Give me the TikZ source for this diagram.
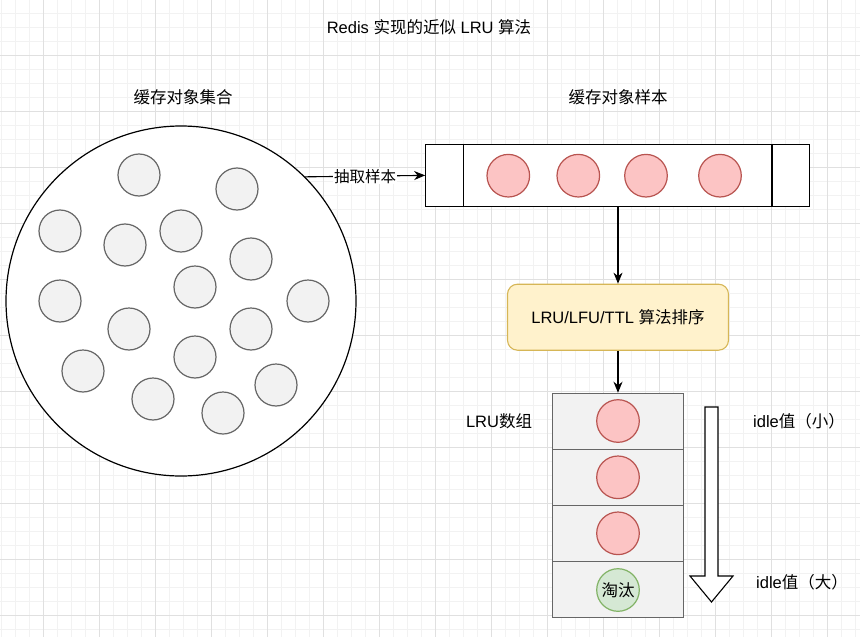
\documentclass[tikz,border=0pt]{standalone}
\usepackage{fontspec}
\setmainfont{Liberation Sans}
\newfontfamily\cjk{Noto Sans CJK SC}
\usetikzlibrary{arrows.meta}
\definecolor{gridminor}{HTML}{F2F2F2}
\definecolor{gridmajor}{HTML}{E0E0E0}
\definecolor{grayfill}{HTML}{F2F2F2}
\definecolor{graydraw}{HTML}{666666}
\definecolor{redfill}{HTML}{FCC4C4}
\definecolor{reddraw}{HTML}{B85450}
\definecolor{greenfill}{HTML}{D5E8D4}
\definecolor{greendraw}{HTML}{82B366}
\definecolor{yelfill}{HTML}{FFF2CC}
\definecolor{yeldraw}{HTML}{D6B656}
\begin{document}
\begin{tikzpicture}[x=1pt,y=-1pt,
  txt/.style={inner sep=0pt, font=\fontsize{16.5}{20}\selectfont},
  lbl/.style={inner sep=1pt, fill=white, font=\fontsize{15.5}{18}\selectfont},
  obj/.style={circle, minimum size=42pt, inner sep=0pt, line width=1.2pt, draw=graydraw, fill=grayfill},
  redobj/.style={circle, minimum size=42.6pt, inner sep=0pt, line width=1.2pt, draw=reddraw, fill=redfill},
  greenobj/.style={circle, minimum size=42.6pt, inner sep=0pt, line width=1.2pt, draw=greendraw, fill=greenfill, font=\fontsize{16.5}{20}\selectfont\cjk},
  cell/.style={rectangle, minimum width=131pt, minimum height=56pt, inner sep=0pt, draw=graydraw, fill=grayfill, line width=1.1pt},
  conn/.style={line width=1.1pt, -{Stealth[length=11pt,width=9pt,inset=3.5pt]}}
]
\useasboundingbox (0,0) rectangle (860,637);
\fill[white] (0,0) rectangle (860,637);
% grid
\foreach \i in {0,...,61} \draw[gridminor, line width=0.9pt] ({1.3+14*\i},0) -- ({1.3+14*\i},637);
\foreach \j in {0,...,45} \draw[gridminor, line width=0.9pt] (0,{13+14*\j}) -- (860,{13+14*\j});
\foreach \i in {0,...,14} \draw[gridmajor, line width=0.9pt] ({43.3+56*\i},0) -- ({43.3+56*\i},637);
\foreach \j in {0,...,10} \draw[gridmajor, line width=0.9pt] (0,{55+56*\j}) -- (860,{55+56*\j});

% title and headings
\node[txt] (title) at (429,27) {Redis {\cjk 实现的近似} LRU {\cjk 算法}};
\node[txt] (h1) at (183,97) {\cjk 缓存对象集合};
\node[txt] (h2) at (618,97) {\cjk 缓存对象样本};

% big circle
\node[circle, draw=black, fill=white, line width=1.2pt, minimum size=350pt, inner sep=0pt] (big) at (181,301) {};
\foreach \n/\x/\y in {o1/139/175, o2/237/189, o3/60/231, o4/125/245, o5/181/231, o6/251/259,
  o7/195/287, o8/60/301, o9/308/301, o10/129/329, o11/251/329, o12/195/357,
  o13/83/371, o14/276/385, o15/153/399, o16/223/413}
  \node[obj] (\n) at (\x,\y) {};

% sample box
\node[rectangle, draw=black, fill=white, line width=1.1pt, minimum width=383.6pt, minimum height=62.7pt, inner sep=0pt] (samp) at (617.5,175.4) {};
\draw[line width=1.1pt] (samp.north -| 463.7,0) -- (samp.south -| 463.7,0);
\draw[line width=1.1pt] (samp.north -| 772,0) -- (samp.south -| 772,0);
\foreach \n/\x in {s1/508.3, s2/578.3, s3/646, s4/720}
  \node[redobj] (\n) at (\x,175.7) {};

% connector big -> sample
\draw[conn] (big.45.8) -- node[lbl] (lab) {\cjk 抽取样本} (samp.west);

% sort box
\node[rectangle, rounded corners=10pt, draw=yeldraw, fill=yelfill, line width=1.1pt, minimum width=221pt, minimum height=66pt, inner sep=0pt, font=\fontsize{16.5}{20}\selectfont] (sort) at (618,317.2) {LRU/LFU/TTL {\cjk 算法排序}};

\draw[conn] (samp.south -| sort.north) -- (sort.north);

% LRU array
\node[cell] (c1) at (618,421.3) {};
\node[cell] (c2) at (618,477.3) {};
\node[cell] (c3) at (618,533.3) {};
\node[cell] (c4) at (618,589.5) {};
\node[redobj] (r1) at (618,421) {};
\node[redobj] (r2) at (618,477.3) {};
\node[redobj] (r3) at (618,533.3) {};
\node[greenobj] (g1) at (618,590) {淘汰};

\draw[conn] (sort.south) -- (c1.north);

\node[txt] (lru) at (499,421.5) {LRU{\cjk 数组}};
\node[txt] (idle1) at (799,421) {idle{\cjk 值（小）}};
\node[txt] (idle2) at (802,582) {idle{\cjk 值（大）}};

% big hollow arrow
\draw[line width=1.1pt, fill=white, line join=miter]
  (705,407) -- (718,407) -- (718,576) -- (733,576) -- (711.5,602) -- (690,576) -- (705,576) -- cycle;
\end{tikzpicture}
\end{document}
